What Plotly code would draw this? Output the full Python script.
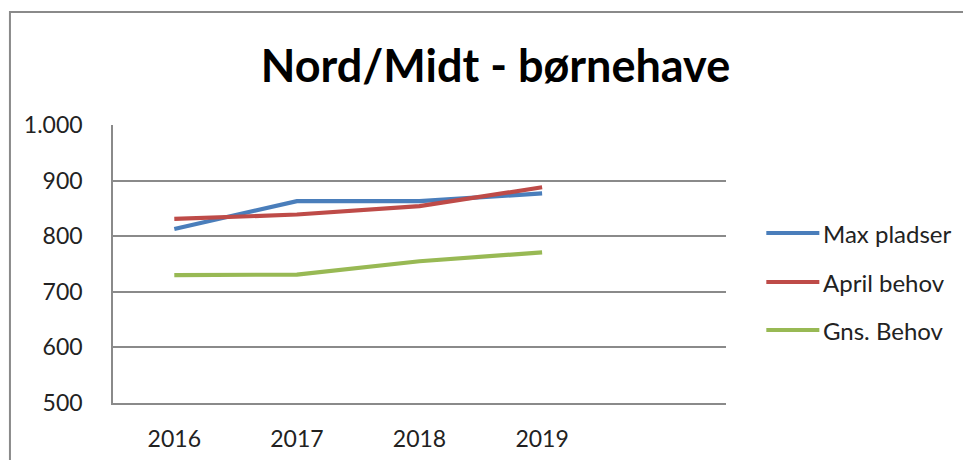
import plotly.graph_objects as go

years = ["2016", "2017", "2018", "2019"]
max_pladser = [813, 863, 863, 877]
april_behov = [831, 839, 854, 888]
gns_behov = [730, 731, 755, 771]
series_names = ["Max pladser", "April behov", "Gns. Behov"]
y_ticks = [500, 600, 700, 800, 900, 1000]
y_tick_labels = ["500", "600", "700", "800", "900", "1.000"]

colors = ["#4A7EBB", "#BE4B48", "#98B954"]
FONT = "Lato"
OFF = 8  # page body margin
W, H = 971 - OFF, 460 - OFF
# plot area in page pixels: x 113..725.7, y 125..403
L, T = 113 - OFF, 125 - OFF
R = W - (725.7 - OFF)
B = H - (403 - OFF)
pw, ph = W - L - R, H - T - B

def px_x(x):
    return (x - OFF - L) / pw

def px_y(y):
    return (H - B - (y - OFF)) / ph

fig = go.Figure()
xs = list(range(len(years)))
for name, vals, c in zip(series_names, [max_pladser, april_behov, gns_behov], colors):
    fig.add_trace(go.Scatter(x=xs, y=vals, mode="lines", name=name,
                             line=dict(color=c, width=4.2), showlegend=False))

shapes = [dict(type="rect", xref="paper", yref="paper",
               x0=px_x(10), x1=px_x(1100), y0=px_y(600), y1=px_y(12),
               line=dict(color="#8a8a8a", width=2), layer="below")]
annotations = []
leg_y = [233, 282, 330]
for name, c, ly in zip(series_names, colors, leg_y):
    shapes.append(dict(type="line", xref="paper", yref="paper",
                       x0=px_x(766), x1=px_x(819), y0=px_y(ly), y1=px_y(ly),
                       line=dict(color=c, width=4.2)))
    annotations.append(dict(xref="paper", yref="paper", x=px_x(821), y=px_y(ly),
                            text=name, showarrow=False, xanchor="left", yanchor="middle",
                            font=dict(family=FONT, size=24, color="#222222")))

fig.update_layout(
    width=W, height=H,
    margin=dict(l=L, r=R, t=T, b=B, autoexpand=False),
    paper_bgcolor="white", plot_bgcolor="white",
    title=dict(text="<b>Nord/Midt - børnehave</b>", x=(495.5 - OFF) / W, xref="container", xanchor="center",
               y=1 - (66 - OFF) / H, yref="container", yanchor="middle",
               font=dict(family=FONT, size=45, color="#000000")),
    shapes=shapes, annotations=annotations,
    xaxis=dict(range=[-0.5, 4.5], tickvals=xs, ticktext=years, showgrid=False,
               showline=True, linecolor="#8a8a8a", linewidth=1.5, ticks="",
               ticklabelstandoff=15, zeroline=False, automargin=False,
               tickfont=dict(family=FONT, size=23, color="#222222")),
    yaxis=dict(range=[500, 1000], tickvals=y_ticks, ticktext=y_tick_labels,
               showgrid=True, gridcolor="#8a8a8a", gridwidth=1.5,
               showline=True, linecolor="#8a8a8a", linewidth=1.5, ticks="",
               ticklabelstandoff=24, zeroline=False, automargin=False,
               tickfont=dict(family=FONT, size=23, color="#222222")),
)

fig.write_html("out.html")
